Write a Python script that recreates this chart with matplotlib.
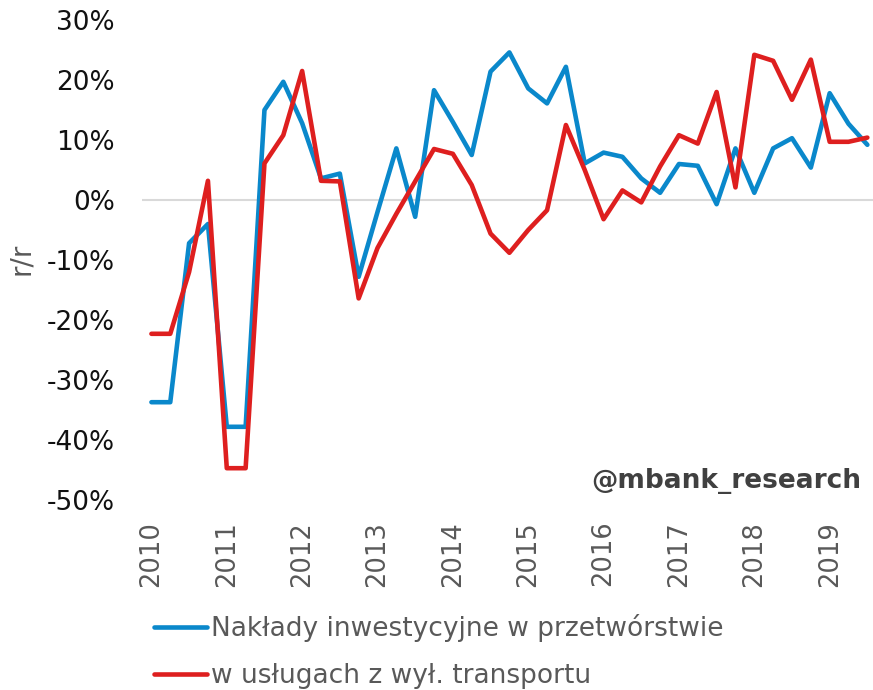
import matplotlib

matplotlib.use("Agg")
import matplotlib.pyplot as plt

# quarterly data 2010Q1 - 2019Q3, y/y in %
years = ["2010", "2011", "2012", "2013", "2014", "2015", "2016", "2017", "2018", "2019"]
naklady_przetworstwo = [
    -33.7, -33.7, -7.2, -4.0, -37.8, -37.8, 15.0, 19.7, 12.8, 3.6,
    4.4, -12.8, -2.0, 8.6, -2.8, 18.3, 13.0, 7.5, 21.4, 24.6,
    18.6, 16.1, 22.2, 6.1, 7.9, 7.2, 3.6, 1.2, 6.0, 5.7,
    -0.7, 8.6, 1.2, 8.6, 10.3, 5.4, 17.8, 12.7, 9.2,
]
naklady_uslugi = [
    -22.3, -22.3, -12.0, 3.2, -44.7, -44.7, 6.1, 10.8, 21.5, 3.2,
    3.1, -16.4, -8.0, -2.3, 3.1, 8.5, 7.7, 2.5, -5.6, -8.8,
    -5.0, -1.7, 12.5, 5.0, -3.2, 1.6, -0.4, 5.6, 10.8, 9.4,
    18.0, 2.1, 24.2, 23.2, 16.7, 23.4, 9.7, 9.7, 10.4,
]
label_blue = "Nakłady inwestycyjne w przetwórstwie"
label_red = "w usługach z wył. transportu"

plt.rcParams["font.family"] = ["DejaVu Sans"]

fig = plt.figure(figsize=(8.73, 6.9), dpi=100)
ax = fig.add_axes([142 / 873, 1 - 500 / 690, (873 - 142) / 873, 480 / 690])

x = list(range(len(naklady_przetworstwo)))
ax.axhline(0, color="#d9d9d9", lw=1.5, zorder=1)
ax.plot(x, naklady_przetworstwo, color="#0a88cb", lw=3.3, label=label_blue,
        solid_joinstyle="round", solid_capstyle="round", zorder=2)
ax.plot(x, naklady_uslugi, color="#de1f1f", lw=3.3, label=label_red,
        solid_joinstyle="round", solid_capstyle="round", zorder=3)

ax.set_ylim(-50, 30)
ax.set_yticks(range(-50, 31, 10))
ax.set_yticklabels([f"{v}%" for v in range(-50, 31, 10)], fontsize=19, color="#111111")
ax.set_xlim(-0.5, 38.3)
ax.set_xticks(range(0, len(x), 4))
ax.set_xticklabels(years, rotation=90, fontsize=18.5, color="#595959")
ax.tick_params(length=0)
ax.tick_params(axis="x", pad=15)
ax.tick_params(axis="y", pad=19.5)
for s in ax.spines.values():
    s.set_visible(False)

ax.set_ylabel("r/r", fontsize=20, color="#595959")
ax.yaxis.set_label_coords(-0.147, 0.502)

fig.text(861 / 873, 1 - 481 / 690, "@mbank_research", ha="right", va="center",
         fontsize=19, fontweight="bold", color="#404040")

fig.legend(loc="upper left", bbox_to_anchor=(141 / 873, 1 - 601 / 690), frameon=False,
           fontsize=19, labelcolor="#595959", handlelength=2.0, handletextpad=0.15,
           labelspacing=0.78, borderpad=0)

fig.savefig("out.png", dpi=100)
